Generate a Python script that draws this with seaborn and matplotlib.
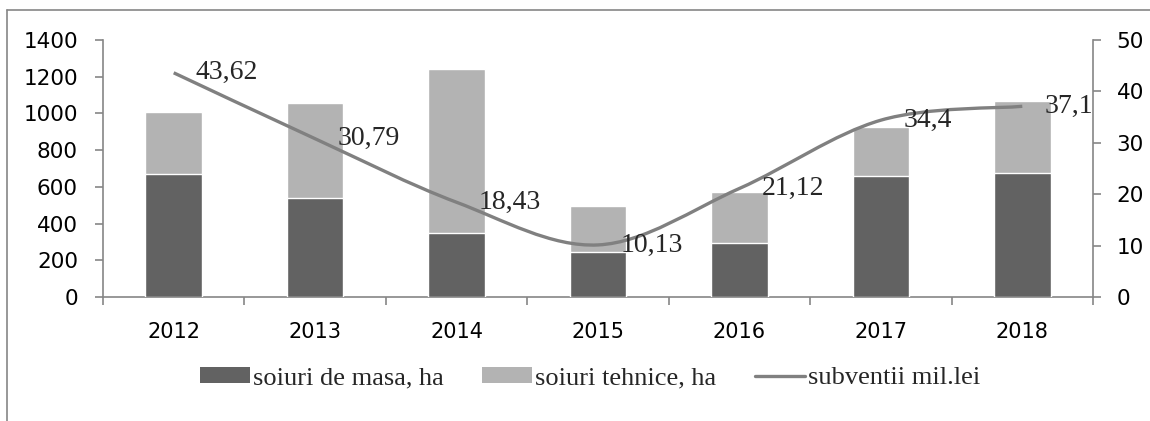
import numpy as np
import pandas as pd
import matplotlib
matplotlib.use("Agg")
import matplotlib.pyplot as plt
from matplotlib.path import Path
from matplotlib.patches import PathPatch, Patch
from matplotlib.lines import Line2D
import seaborn as sns

# ---------------- DATA ----------------
years = ["2012", "2013", "2014", "2015", "2016", "2017", "2018"]
masa = [670, 540, 347, 247, 292, 661, 677]          # soiuri de masa, ha
tehnice = [336, 515, 893, 250, 280, 265, 392]      # soiuri tehnice, ha
subventii = [43.62, 30.79, 18.43, 10.13, 21.12, 34.4, 37.1]
subv_labels = ["43,62", "30,79", "18,43", "10,13", "21,12", "34,4", "37,1"]

df = pd.DataFrame({"an": years, "masa": masa, "tehnice": tehnice})
df["total"] = df["masa"] + df["tehnice"]

c_dark = "#626262"
c_light = "#b3b3b3"
c_line = "#808080"
c_axis = "#868686"

sns.set_style("white")
plt.rcParams["font.family"] = ["DejaVu Sans"]

fig = plt.figure(figsize=(11.5, 4.21), dpi=100)
W, H = 1150, 421
ax = fig.add_axes([103 / W, 1 - 297 / H, (1093 - 103) / W, (297 - 40) / H])

# ---------------- BARS ----------------
sns.barplot(data=df, x="an", y="total", color=c_light, width=0.4,
            saturation=1, ax=ax, zorder=2)
sns.barplot(data=df, x="an", y="masa", color=c_dark, width=0.4,
            saturation=1, ax=ax, zorder=3)

ax.set_xlim(-0.5, len(years) - 0.5)
ax.set_ylim(0, 1400)
ax.set_yticks(range(0, 1401, 200))
ax.set_xlabel("")
ax.set_ylabel("")

# category boundaries as major ticks, labels on minor ticks
ax.set_xticks(np.arange(-0.5, len(years), 1.0))
ax.set_xticklabels([])
ax.set_xticks(range(len(years)), minor=True)
ax.set_xticklabels(years, minor=True)
ax.tick_params(axis="x", which="major", length=6, color=c_axis, width=1.2,
               direction="out", bottom=True)
ax.tick_params(axis="x", which="minor", length=0, pad=18, labelsize=15,
               labelcolor="black")
ax.tick_params(axis="y", length=6, color=c_axis, width=1.2, direction="out",
               left=True, pad=12, labelsize=15.5, labelcolor="black")

for s in ["top", "right"]:
    ax.spines[s].set_visible(False)
for s in ["left", "bottom"]:
    ax.spines[s].set_color(c_axis)
    ax.spines[s].set_linewidth(1.2)

# ---------------- LINE (secondary axis) ----------------
ax2 = ax.twinx()
ax2.set_ylim(0, 50)
ax2.set_yticks(range(0, 51, 10))
ax2.tick_params(axis="y", length=6, color=c_axis, width=1.2, direction="out",
                right=True, pad=11, labelsize=15.5, labelcolor="black")
for s in ["top", "left", "bottom"]:
    ax2.spines[s].set_visible(False)
ax2.spines["right"].set_color(c_axis)
ax2.spines["right"].set_linewidth(1.2)

# smoothed line (Bezier through the data points, like Excel "smoothed line")
xs = np.arange(len(years), dtype=float)
ys = np.array(subventii, dtype=float)
verts = [(xs[0], ys[0])]
codes = [Path.MOVETO]
for i in range(len(xs) - 1):
    p0 = np.array([xs[max(i - 1, 0)], ys[max(i - 1, 0)]])
    p1 = np.array([xs[i], ys[i]])
    p2 = np.array([xs[i + 1], ys[i + 1]])
    p3 = np.array([xs[min(i + 2, len(xs) - 1)], ys[min(i + 2, len(xs) - 1)]])
    c1 = p1 + (p2 - p0) / 6
    c2 = p2 - (p3 - p1) / 6
    verts += [tuple(c1), tuple(c2), tuple(p2)]
    codes += [Path.CURVE4] * 3
ax2.add_patch(PathPatch(Path(verts, codes), facecolor="none",
                        edgecolor=c_line, lw=2.4, zorder=4, capstyle="butt"))

for x, y, lab in zip(xs, ys, subv_labels):
    ax2.annotate(lab, (x, y), xytext=(16, 0), textcoords="offset points",
                 ha="left", va="center", fontsize=20,
                 family="Liberation Serif", zorder=5)

# ---------------- LEGEND ----------------
handles = [Patch(facecolor=c_dark, edgecolor="none"),
           Patch(facecolor=c_light, edgecolor="none"),
           Line2D([0], [0], color=c_line, lw=2.4)]
fig.legend(handles, ["soiuri de masa, ha", "soiuri tehnice, ha", "subventii mil.lei"],
           loc="center", bbox_to_anchor=(590 / W, 1 - 378 / H), ncol=3,
           frameon=False, prop={"family": "Liberation Serif", "size": 19},
           handlelength=1.9, handleheight=0.55, handletextpad=0.12,
           columnspacing=1.45)

# outer chart border (top and left only)
fig.add_artist(Line2D([7 / W, 1], [1 - 10 / H, 1 - 10 / H], color=c_axis,
                      lw=1.2, transform=fig.transFigure))
fig.add_artist(Line2D([7 / W, 7 / W], [0, 1 - 10 / H], color=c_axis,
                      lw=1.2, transform=fig.transFigure))

fig.savefig("out.png", dpi=100)
